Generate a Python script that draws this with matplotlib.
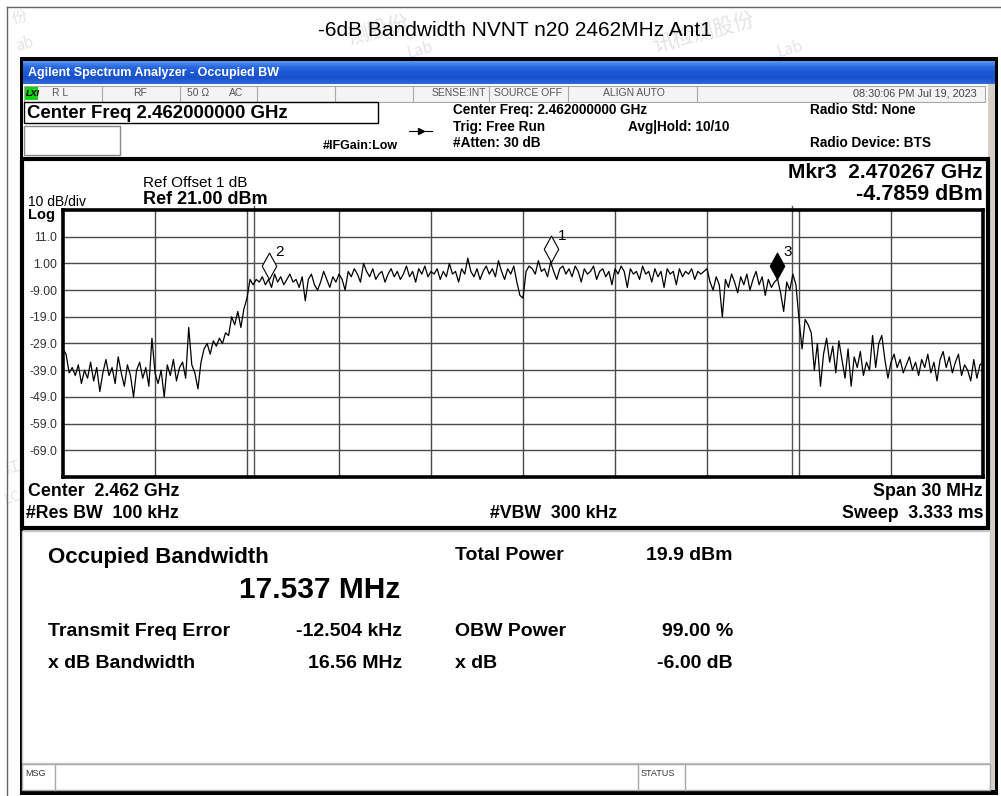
import numpy as np
import matplotlib.pyplot as plt
from matplotlib.patches import Rectangle
from matplotlib.path import Path
from matplotlib.colors import LinearSegmentedColormap

plt.rcParams['font.family'] = ['Liberation Sans', 'DejaVu Sans']

title = '-6dB Bandwidth NVNT n20 2462MHz Ant1'

# sweep settings (GHz / dBm)
start_ghz = 2.447
stop_ghz = 2.477
ref_level = 21.0
bottom_level = -79.0

# trace, 0.1 MHz per point
trace_dbm = [
    -31, -33, -40, -38, -41, -37, -44, -39, -42, -36,
    -43, -38, -47, -40, -35, -41, -38, -44, -34, -40,
    -45, -37, -41, -49, -39, -36, -42, -38, -45, -27,
    -40, -44, -39, -49, -37, -41, -35, -43, -38, -36,
    -42, -23, -37, -40, -46, -36, -31, -29, -33, -28,
    -30, -27, -29, -25, -26, -19, -22, -17, -23, -16,
    -12, -5, -7, -5, -6, -4, -7, -5, -8, -3,
    -6, -4, -7, -5, -3, -6, -5, -8, -4, -13,
    -5, -3, -7, -9, -6, -2, -5, -8, -4, -6,
    -3, -5, -9, -2, -4, -1, -3, -6, 1, -2,
    -4, -1, -5, -3, -2, -6, -3, -1, -4, -2,
    -5, -3, 0, -4, -2, -6, -1, -3, 0, -4,
    -2, -3, -1, -5, -2, -4, 1, -3, -2, -6,
    -1, -3, 3, -2, -4, -1, -5, -2, 0, -3,
    -1, -4, 2, -2, -5, -1, -3, 0, -6, -11,
    -12, -2, 0, -1, -3, 2, -2, -1, -4, 1.5,
    -2, -5, -1, 0, -3, -1, -4, 0, -2, -6,
    -1, -3, -2, 0, -5, -2, -1, -4, -2, -7,
    -1, -3, 0, -2, -8, -1, -3, -2, -5, 0,
    -3, -2, -6, -1, -4, -2, -8, -1, -3, -2,
    -7, -1, -4, -2, -3, -1, -5, -2, -3, -2,
    -1, -6, -9, -4, -7, -19, -5, -8, -3, -6,
    -10, -4, -7, -3, -9, -5, -2, -7, -4, -11,
    -5, -8, -6, -4.8, -10, -17, -6, -9, -3, -7,
    -20, -31, -20, -22, -25, -39, -29, -45, -33, -27,
    -36, -30, -40, -28, -35, -42, -31, -45, -34, -38,
    -32, -41, -36, -39, -26, -38, -29, -26, -35, -42,
    -36, -33, -38, -35, -40, -37, -34, -39, -36, -41,
    -35, -38, -33, -40, -36, -43, -35, -32, -38, -34,
    -40, -36, -33, -41, -37, -39, -43, -35, -42, -37,
    -36,
]

ytick_vals = [11, 1, -9, -19, -29, -39, -49, -59, -69]
ytick_labels = ['11.0', '1.00', '-9.00', '-19.0', '-29.0', '-39.0', '-49.0', '-59.0', '-69.0']

obw_edges = [2.453219, 2.470756]
marker_ids = ['1', '2', '3']
marker_freqs = [2.46290, 2.453707, 2.470267]
marker_levels = [1.5, -4.8, -4.7859]
marker_filled = [False, False, True]

# result panel rows: (label, value)
left_rows = [('Transmit Freq Error', '-12.504 kHz'), ('x dB Bandwidth', '16.56 MHz')]
right_rows = [('Total Power', '19.9 dBm'), ('OBW Power', '99.00 %'), ('x dB', '-6.00 dB')]

W, H = 1001, 796
fig = plt.figure(figsize=(W / 100, H / 100), dpi=100)
bg = fig.add_axes([0, 0, 1, 1])


def box(x0, y0, x1, y1, fc='white', ec='none', lw=1.0, z=1):
    bg.add_patch(Rectangle((x0, y0), x1 - x0, y1 - y0, facecolor=fc,
                           edgecolor=ec, linewidth=lw, zorder=z))


def txt(x, y, s, size, bold=False, ha='left', color='black', z=5, **kw):
    bg.text(x, y, s, fontsize=size, fontweight='bold' if bold else 'normal',
            ha=ha, va='center', color=color, zorder=z, **kw)


# page frame + title
bg.plot([7, 1001], [7, 7], color='#666666', lw=1, zorder=0.8)
bg.plot([7, 7], [7, 796], color='#666666', lw=1, zorder=0.8)
txt(515, 30, title, 15, ha='center', z=4)

# faint watermark
cjk = ['Noto Sans CJK SC', 'DejaVu Sans']
for (x, y, s, fs) in [(345, 30, '测股份', 15), (650, 32, '讯检测股份', 15), (10, 18, '份', 11),
                      (405, 50, 'Lab', 11), (775, 49, 'Lab', 11), (14, 44, 'ab', 11),
                      (3, 468, '江', 11), (3, 498, 'LC', 10)]:
    bg.text(x, y, s, fontsize=fs, color='#e4e4e4', rotation=15, family=cjk,
            va='center', zorder=0.5)

# analyzer window
box(20, 57, 998, 795, fc='black', z=1)
grad = np.linspace(0, 1, 50).reshape(-1, 1)
tb_cmap = LinearSegmentedColormap.from_list(
    'tb', ['#5b97f2', '#2a68e0', '#1c58d4', '#1a52cc', '#2f6ad8'])
bg.imshow(grad, extent=(23, 995, 84, 61), cmap=tb_cmap, aspect='auto', zorder=2)
txt(28, 73, 'Agilent Spectrum Analyzer - Occupied BW', 9, bold=True, color='white')

box(23, 84, 995, 790, fc='#d4d0c8', z=1.5)
box(23, 84, 988, 158, fc='white', z=2)

# status row
box(24, 86, 985, 102, fc='#f4f4f4', ec='#a8a8a8', lw=0.8, z=2.2)
for xd in [102, 180, 257, 335, 413, 489, 568, 697]:
    bg.plot([xd, xd], [86, 102], color='#a8a8a8', lw=0.8, zorder=2.3)
box(25, 87, 38, 100, fc='#10d010', z=2.4)
txt(25.5, 93.5, 'LXI', 6.5, bold=True, style='italic')
for (x, s) in [(52, 'R L'), (133, 'RF'), (187, '50 Ω'), (229, 'AC'), (432, 'SENSE:INT'),
               (494, 'SOURCE OFF'), (603, 'ALIGN AUTO')]:
    txt(x, 93.5, s, 7.5, color='#555555')
txt(977, 93.5, '08:30:06 PM Jul 19, 2023', 7.8, ha='right', color='#444444')

# top info area
box(24, 102, 378, 123, fc='white', ec='black', lw=1, z=2.4)
txt(27, 113, 'Center Freq 2.462000000 GHz', 13.4, bold=True)
box(24, 126, 120, 155, fc='white', ec='#888888', lw=1, z=2.4)
txt(323, 146, '#IFGain:Low', 9, bold=True)
bg.plot([409, 432], [131, 131], color='black', lw=0.8, zorder=3)
bg.plot([421], [131], marker='>', ms=5, color='black', zorder=3)
txt(453, 110, 'Center Freq: 2.462000000 GHz', 9.8, bold=True)
txt(453, 127, 'Trig: Free Run', 9.8, bold=True)
txt(453, 143, '#Atten: 30 dB', 9.8, bold=True)
txt(628, 127, 'Avg|Hold: 10/10', 9.8, bold=True)
txt(810, 110, 'Radio Std: None', 9.8, bold=True)
txt(810, 143, 'Radio Device: BTS', 9.8, bold=True)

# graph panel
box(22, 159, 988, 528, fc='white', ec='black', lw=3, z=2)
txt(143, 183, 'Ref Offset 1 dB', 11)
txt(143, 200, 'Ref 21.00 dBm', 13, bold=True)
txt(28, 202, '10 dB/div', 10)
txt(28, 215, 'Log', 10.5, bold=True)
txt(983, 173, 'Mkr3  2.470267 GHz', 15, bold=True, ha='right')
txt(983, 194, '-4.7859 dBm', 15.5, bold=True, ha='right')
txt(28, 492, 'Center  2.462 GHz', 12.8, bold=True)
txt(26, 513, '#Res BW  100 kHz', 12.8, bold=True)
txt(490, 513, '#VBW  300 kHz', 12.8, bold=True)
txt(983, 492, 'Span 30 MHz', 12.8, bold=True, ha='right')
txt(983, 513, 'Sweep  3.333 ms', 12.8, bold=True, ha='right')

# result panel
box(22, 531, 990, 763, fc='white', ec='#c8c8c8', lw=1, z=2)
txt(48, 557, 'Occupied Bandwidth', 16, bold=True)
txt(400, 590, '17.537 MHz', 21.5, bold=True, ha='right')
ys = [631, 664]
for (lab, val), y in zip(left_rows, ys):
    txt(48, y, lab, 14, bold=True)
    txt(402, y, val, 14, bold=True, ha='right')
for (lab, val), y in zip(right_rows, [555] + ys):
    txt(455, y, lab, 14, bold=True)
    txt(733, y, val, 14, bold=True, ha='right')

# message bar
box(22, 764, 990, 790, fc='white', ec='#a8a8a8', lw=1, z=2)
for xd in [55, 638, 685]:
    bg.plot([xd, xd], [764, 790], color='#a8a8a8', lw=1, zorder=2.3)
txt(25, 774, 'MSG', 6.5, color='#333333')
txt(641, 774, 'STATUS', 6.5, color='#333333')

bg.set_xlim(0, W)
bg.set_ylim(H, 0)
bg.axis('off')

# spectrum display
ax = fig.add_axes([63 / W, 1 - 477 / H, 920 / W, 267 / H])
ax.set_zorder(5)
freqs = np.linspace(start_ghz, stop_ghz, len(trace_dbm))
ax.set_xlim(start_ghz, stop_ghz)
ax.set_ylim(bottom_level, ref_level)
ax.set_xticks(np.linspace(start_ghz, stop_ghz, 11)[1:-1])
ax.set_yticks(ytick_vals)
ax.set_yticklabels(ytick_labels, fontsize=8.8, color='#333333')
ax.tick_params(length=0, pad=4, labelbottom=False)
ax.grid(True, color='#4a4a4a', lw=1)
for s in ax.spines.values():
    s.set_linewidth(2.6)
    s.set_color('black')

for f in obw_edges:
    ax.axvline(f, color='#555555', lw=1)
    ax.plot([f, f], [ref_level, ref_level + 1.5], color='#555555', lw=1, clip_on=False)

ax.plot(freqs, trace_dbm, color='black', lw=0.9, zorder=3)

diamond = Path([(0, 0), (0.55, 1), (0, 2), (-0.55, 1), (0, 0)],
               [Path.MOVETO, Path.LINETO, Path.LINETO, Path.LINETO, Path.CLOSEPOLY])
for mid, f, lv, filled in zip(marker_ids, marker_freqs, marker_levels, marker_filled):
    ax.plot([f], [lv], marker=diamond, ms=38, mfc='black' if filled else 'white',
            mec='black', mew=0.8, zorder=4)
    ax.annotate(mid, (f, lv), xytext=(8, 19), textcoords='offset points',
                fontsize=11, ha='center', va='center', zorder=5)

fig.savefig('out.png', dpi=100)
